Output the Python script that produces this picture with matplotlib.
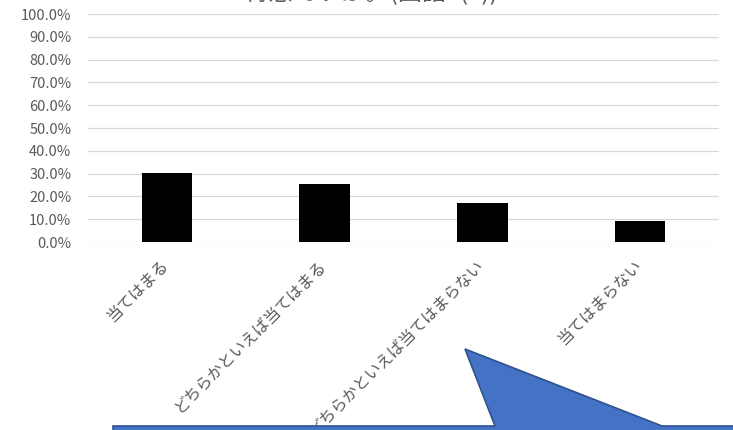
import matplotlib.pyplot as plt
import matplotlib.transforms as mtransforms
from matplotlib.patches import Polygon
from matplotlib.ticker import PercentFormatter

plt.rcParams["font.family"] = ["Noto Sans CJK JP", "DejaVu Sans"]

# データ
categories = ["当てはまる", "どちらかといえば当てはまる", "どちらかといえば当てはまらない", "当てはまらない"]
values = [0.304, 0.253, 0.172, 0.092]
title = "得意ですか。(国語3(3))"

W, H = 733, 430
fig = plt.figure(figsize=(W / 100, H / 100), dpi=100)
ax = fig.add_axes([88 / W, 1 - 242 / H, (719 - 88) / W, (242 - 14) / H])

ax.bar(range(len(categories)), values, width=0.32, color="black", zorder=3)

ax.set_ylim(0, 1.0)
ax.set_xlim(-0.5, len(categories) - 0.5)
ax.set_yticks([i / 10 for i in range(11)])
ax.yaxis.set_major_formatter(PercentFormatter(1.0, decimals=1))
ax.grid(True, axis="y", color="#D9D9D9", linewidth=0.9, zorder=0)
for s in ax.spines.values():
    s.set_visible(False)
ax.tick_params(axis="both", length=0, colors="#595959")
ax.tick_params(axis="y", pad=12, labelsize=10.5)

ax.set_xticks(range(len(categories)))
ax.set_xticklabels(categories, rotation=45, ha="right", va="top",
                   rotation_mode="anchor", fontsize=11.5, color="#595959")
ax.tick_params(axis="x", pad=12)
# ラベル位置の微調整
shift = mtransforms.ScaledTranslation(-7 / 100, 2 / 100, fig.dpi_scale_trans)
for lbl in ax.get_xticklabels():
    lbl.set_transform(lbl.get_transform() + shift)

# タイトル（上端で切れている）
fig.text(371 / W, 1 - 6 / H, title, ha="center", va="bottom",
         fontsize=17.5, color="#595959")

# 吹き出し
pts = [(113, 426), (495, 426), (465, 349), (662, 426), (745, 426), (745, 445), (113, 445)]
callout = Polygon([(x / W, 1 - y / H) for x, y in pts], closed=True,
                  facecolor="#4472C4", edgecolor="#2F528F", linewidth=1.2,
                  transform=fig.transFigure, zorder=10)
fig.patches.append(callout)

fig.savefig("out.png", dpi=100)
plt.close(fig)
